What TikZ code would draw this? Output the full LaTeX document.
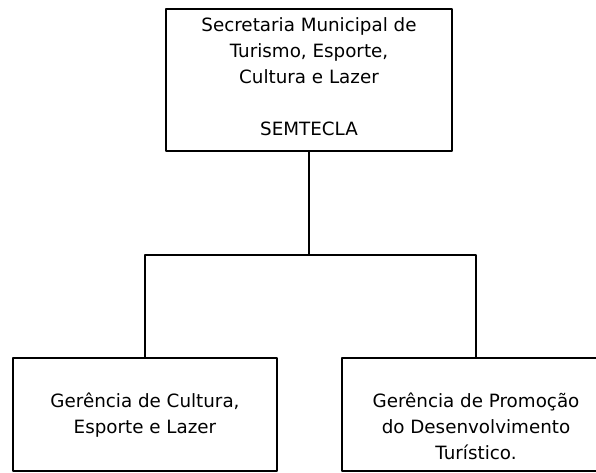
\documentclass[tikz,border=0pt]{standalone}
\usepackage{fontspec}
\setmainfont{DejaVu Sans}
% caixa de texto alinhada no topo: altura, largura, primeira linha, texto
\newcommand{\caixatexto}[4]{\parbox[c][#1][t]{#2}{\centering\rule{0pt}{#3}#4}}
\begin{document}
\begin{tikzpicture}[x=1pt, y=-1pt, line join=round, font=\fontsize{18.3}{26}\selectfont]
	\tikzset{caixa/.style={draw, line width=2.8pt, inner sep=0pt}, ligacao/.style={line width=1.8pt}}
	\useasboundingbox (0,0) rectangle (596,473);
	\node[caixa] (semtecla) at (309,80) {\caixatexto{142pt}{286pt}{23pt}{Secretaria Municipal de\\ Turismo, Esporte,\\ Cultura e Lazer\\[26pt] SEMTECLA}};
	\node[caixa] (cultura) at (145,414.5) {\caixatexto{113pt}{264pt}{49pt}{Gerência de Cultura,\\ Esporte e Lazer}};
	\node[caixa] (turismo) at (476,414.5) {\caixatexto{113pt}{268pt}{49pt}{Gerência de Promoção\\ do Desenvolvimento\\ Turístico.}};
	\coordinate (barra) at (309,255);
	\draw[ligacao] (semtecla.south) -- (barra);
	\draw[ligacao] (cultura.north) |- (barra) -| (turismo.north);
\end{tikzpicture}
\end{document}
